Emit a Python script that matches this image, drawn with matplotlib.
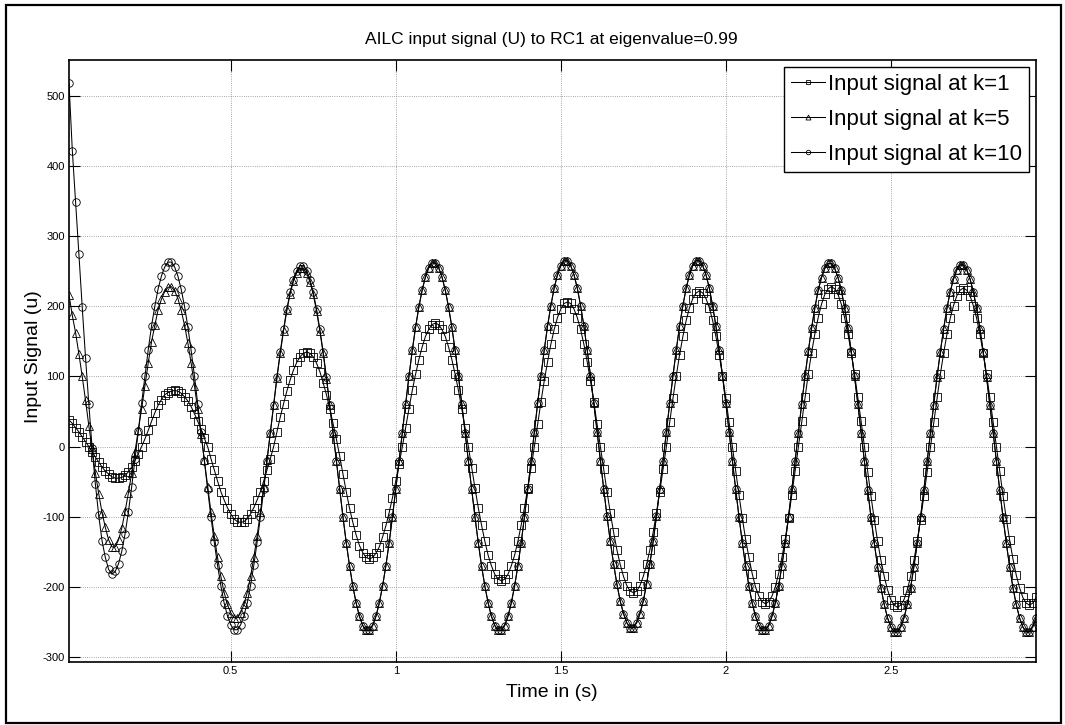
import matplotlib
matplotlib.use("Agg")
import matplotlib.pyplot as plt
import numpy as np
from matplotlib.patches import Rectangle
from matplotlib.ticker import FormatStrFormatter

plt.rcParams['font.family'] = ['Liberation Sans', 'DejaVu Sans']
plt.rcParams['axes.unicode_minus'] = False

# sample step of the simulation (s), first sample at 0.01 s
dt = 0.01

# input signal at iteration k=1 (squares)
u_k1 = [
    38, 33, 27, 21, 14, 7, 0, -7, -15, -22,
    -29, -35, -39, -43, -45, -45, -44, -41, -36, -29,
    -20, -10, 0, 11, 23, 36, 48, 59, 67, 74,
    77, 79, 80,
    79, 76, 71, 65, 57, 47, 36, 25, 12, 0,
    -17, -33, -49, -64, -76, -87, -96, -103, -107, -108,
    -107, -103, -96, -87, -76, -64, -49, -33, -17, 0,
    21, 42, 61, 79, 95, 109, 120, 128, 133, 135,
    133, 128, 119, 107, 91, 74, 54, 33, 11,
    -13, -39, -64, -88, -108, -126, -141, -151, -158, -160,
    -158, -152, -143, -129, -113, -94, -73, -49, -25, 0,
    27, 54, 80, 103, 124, 142, 157, 167, 174, 176,
    174, 167, 157, 142, 124, 103, 80, 54, 27, 0,
    -30, -59, -87, -112, -135, -155, -170, -182, -189, -191,
    -189, -182, -170, -155, -135, -112, -87, -59, -30, 0,
    32, 64, 94, 121, 146, 167, 184, 196, 204, 206,
    204, 196, 184, 167, 146, 121, 94, 64, 32, 0,
    -32, -64, -94, -122, -147, -168, -185, -198, -206, -208,
    -206, -198, -185, -168, -147, -122, -94, -64, -32, 0,
    35, 69, 101, 131, 157, 180, 198, 211, 219, 222,
    219, 211, 198, 180, 157, 131, 101, 69, 35, 0,
    -35, -69, -102, -132, -158, -181, -200, -213, -221, -224,
    -221, -213, -200, -181, -158, -132, -102, -69, -35, 0,
    36, 70, 104, 134, 161, 184, 203, 217, 225, 228,
    225, 217, 203, 184, 161, 134, 104, 70, 36, 0,
    -36, -71, -104, -135, -162, -185, -204, -218, -226, -229,
    -226, -218, -204, -185, -162, -135, -104, -71, -36, 0,
    35, 70, 103, 133, 160, 183, 201, 215, 223, 226,
    223, 215, 201, 183, 160, 133, 103, 70, 35, 0,
    -35, -70, -103, -133, -160, -183, -201, -215, -223, -226,
    -223, -215,
]

# input signal at iteration k=5 (triangles)
u_k5 = [
    216, 187, 162, 132, 100, 66, 30, -4, -38, -67,
    -94, -115, -133, -143, -143, -133, -116, -92, -66, -37,
    -7, 24, 54, 87, 119, 149, 173, 195, 210, 221,
    227, 228,
    222, 211, 194, 173, 148, 119, 87, 53, 18,
    -19, -57, -93, -127, -158, -185, -208, -225, -237,
    -244, -244,
    -237, -225, -208, -185, -158, -127, -93, -57, -19,
    20, 59, 98, 133, 165, 194, 218, 236, 248,
    254, 254,
    247, 235, 217, 193, 165, 133, 97, 59, 20,
    -20, -61, -100, -137, -170, -199, -223, -242, -255,
    -262, -262,
    -255, -242, -223, -199, -170, -137, -100, -61, -20,
    20, 61, 100, 137, 170, 199, 223, 242, 255,
    262, 262,
    255, 242, 223, 199, 170, 137, 100, 61, 20,
    -20, -61, -100, -137, -170, -199, -223, -242, -255,
    -262, -262,
    -255, -242, -223, -199, -170, -137, -100, -61, -20,
    21, 62, 101, 138, 172, 201, 226, 245, 258,
    265, 265,
    258, 245, 226, 201, 172, 138, 101, 62, 21,
    -20, -60, -99, -135, -167, -196, -220, -238, -251,
    -258, -258,
    -251, -238, -220, -196, -167, -135, -99, -60, -20,
    21, 62, 101, 138, 172, 201, 226, 245, 258,
    265, 265,
    258, 245, 226, 201, 172, 138, 101, 62, 21,
    -20, -61, -100, -137, -170, -199, -223, -242, -255,
    -262, -262,
    -255, -242, -223, -199, -170, -137, -100, -61, -20,
    20, 61, 100, 136, 169, 198, 223, 241, 254,
    261, 261,
    254, 241, 223, 198, 169, 136, 100, 61, 20,
    -21, -62, -101, -138, -171, -201, -225, -244, -257,
    -264, -264,
    -257, -244, -225, -201, -171, -138, -101, -62, -21,
    20, 60, 99, 135, 168, 197, 221, 239, 252,
    259, 259,
    252, 239, 221, 197, 168, 135, 99, 60, 20,
    -21, -62, -101, -138, -171, -201, -225, -244, -257,
    -264, -264,
    -257, -244,
]

# input signal at iteration k=10 (circles)
u_k10 = [
    518, 422, 349, 274, 199, 127, 61, -2, -54, -98,
    -134, -158, -175, -182, -178, -167, -149, -124, -93, -57,
    -18, 22, 62, 100, 138, 172, 200, 225, 243, 256,
    263, 263,
    256, 243, 224, 200, 171, 137, 101, 61, 21,
    -20, -61, -100, -136, -169, -198, -223, -241, -254,
    -261, -261,
    -254, -241, -223, -198, -169, -136, -100, -61, -20,
    20, 60, 99, 135, 167, 196, 220, 238, 251,
    258, 258,
    251, 238, 220, 196, 167, 135, 99, 60, 20,
    -20, -61, -100, -137, -170, -199, -223, -242, -255,
    -262, -262,
    -255, -242, -223, -199, -170, -137, -100, -61, -20,
    20, 61, 100, 137, 170, 199, 223, 242, 255,
    262, 262,
    255, 242, 223, 199, 170, 137, 100, 61, 20,
    -20, -61, -100, -137, -170, -199, -223, -242, -255,
    -262, -262,
    -255, -242, -223, -199, -170, -137, -100, -61, -20,
    21, 62, 101, 138, 172, 201, 226, 245, 258,
    265, 265,
    258, 245, 226, 201, 172, 138, 101, 62, 21,
    -20, -60, -99, -135, -167, -196, -220, -238, -251,
    -258, -258,
    -251, -238, -220, -196, -167, -135, -99, -60, -20,
    21, 62, 101, 138, 172, 201, 226, 245, 258,
    265, 265,
    258, 245, 226, 201, 172, 138, 101, 62, 21,
    -20, -61, -100, -137, -170, -199, -223, -242, -255,
    -262, -262,
    -255, -242, -223, -199, -170, -137, -100, -61, -20,
    20, 61, 100, 136, 169, 198, 223, 241, 254,
    261, 261,
    254, 241, 223, 198, 169, 136, 100, 61, 20,
    -21, -62, -101, -138, -171, -201, -225, -244, -257,
    -264, -264,
    -257, -244, -225, -201, -171, -138, -101, -62, -21,
    20, 60, 99, 135, 168, 197, 221, 239, 252,
    259, 259,
    252, 239, 221, 197, 168, 135, 99, 60, 20,
    -21, -62, -101, -138, -171, -201, -225, -244, -257,
    -264, -264,
    -257, -244,
]

labels = ['Input signal at k=1', 'Input signal at k=5', 'Input signal at k=10']
markers = ['s', '^', 'o']
msizes = [5.4, 6.0, 5.4]

fig = plt.figure(figsize=(10.65, 7.25), dpi=100)
ax = fig.add_axes([0.0648, 0.0869, 0.908, 0.8303])

for y, lab, mk, ms in zip([u_k1, u_k5, u_k10], labels, markers, msizes):
    t = dt * np.arange(1, len(y) + 1)
    ax.plot(t, y, color='black', lw=0.75, marker=mk, ms=ms, mfc='none',
            mec='black', mew=0.6, label=lab)

n = max(len(u_k1), len(u_k5), len(u_k10))
ax.set_xlim(dt, dt * n)
ax.set_ylim(-307, 551)
ax.set_xticks([0.5, 1, 1.5, 2, 2.5])
ax.set_yticks(np.arange(-300, 501, 100))
ax.xaxis.set_major_formatter(FormatStrFormatter('%g'))
ax.tick_params(direction='in', length=8, width=0.8, top=True, right=True,
               labelsize=8, pad=3)
ax.grid(True, color='#8a8a8a', lw=0.6, ls=':')
for s in ax.spines.values():
    s.set_linewidth(1.2)

leg = ax.legend(loc='upper right', fontsize=16, frameon=True, fancybox=False,
                edgecolor='black', framealpha=1, borderaxespad=0.3,
                borderpad=0.33, labelspacing=0.62, handlelength=1.55,
                handletextpad=0.12, markerscale=0.6)
leg.get_frame().set_linewidth(1.0)

fig.text(0.518, 0.945, 'AILC input signal (U) to RC1 at eigenvalue=0.99',
         ha='center', va='center', fontsize=12.5)
fig.text(0.518, 0.045, 'Time in (s)', ha='center', va='center', fontsize=14)
fig.text(0.031, 0.508, 'Input Signal (u)', ha='center', va='center',
         rotation=90, fontsize=14)

fig.patches.append(Rectangle((0.0056, 0.003), 0.9906, 0.990,
                             transform=fig.transFigure, fill=False,
                             edgecolor='black', lw=1.6))

fig.savefig('out.png', dpi=100)
